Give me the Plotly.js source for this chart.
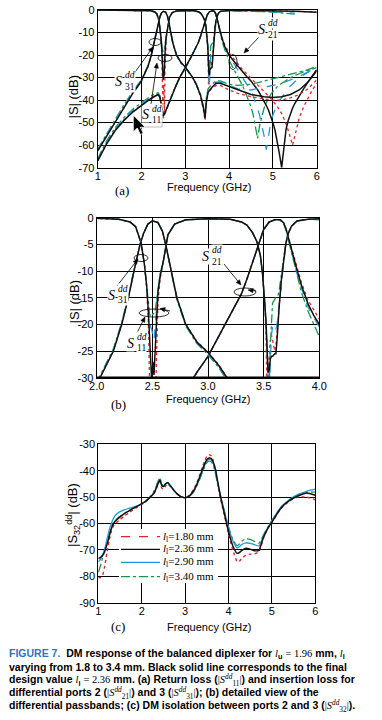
<!DOCTYPE html>
<html><head><meta charset="utf-8">
<script src="https://cdn.plot.ly/plotly-3.0.1.min.js"></script>
<style>html,body{margin:0;padding:0;background:#fff}#chart{width:382px;height:720px}</style>
</head><body><div id="chart"></div>
<script>
// ---------------- DATA ----------------
const variants = ['l1=1.80 mm','l1=2.36 mm','l1=2.90 mm','l1=3.40 mm'];

const F31 = [1.0,1.2,1.4,1.6,1.8,1.9,2.0,2.03,2.1,2.15,2.225,2.285,2.335,2.39,2.42,2.46,2.5,2.55,2.59,2.62,2.67,2.72,2.8,2.9,3.0,3.1,3.17,3.25,3.35,3.42,3.45,3.48,3.52,3.6,3.7,3.8,4.0,4.2,4.5,4.8,5.0,5.2,5.4,5.6,5.8,6.0];
const S31_red   = [-62.3,-55.8,-49.3,-42.8,-36.8,-34.1,-31.4,-30,-27.2,-25,-20,-15,-10,-5,-3,-1.2,-0.6,-0.9,-2.5,-5,-10,-15,-20,-23.2,-25.2,-27.7,-29.9,-33,-38.5,-45,-49,-40,-36.5,-35,-33.5,-33.5,-35.5,-37,-38.5,-39.5,-40,-40,-39,-37.5,-35,-31];
const S31_black = [-62.5,-56,-49.5,-43,-37,-34.3,-31.5,-30,-27.2,-25,-20,-15,-10,-5,-3,-1.2,-0.6,-0.9,-2.5,-5,-10,-15,-20,-23.3,-25.3,-27.8,-30,-33,-38,-44,-48,-41,-36.5,-34.5,-32.5,-32.5,-34,-35.5,-37.5,-38.5,-38.8,-38.5,-37.5,-35.5,-32,-27];
const S31_blue  = [-62,-55.3,-48.8,-42.3,-36.5,-33.8,-31.2,-29.8,-27,-24.8,-19.8,-14.8,-9.8,-4.9,-2.9,-1.2,-0.6,-0.9,-2.5,-5,-10,-15,-20,-23.4,-25.5,-28,-30.2,-33,-38,-43.5,-47,-40,-35.5,-33.5,-32,-32,-33.5,-35,-35.5,-34.5,-33.5,-32.5,-31,-29.5,-27.5,-25.5];
const S31_green = [-61.8,-55,-48.5,-42,-36.2,-33.5,-31,-29.6,-26.8,-24.6,-19.6,-14.7,-9.8,-4.9,-2.9,-1.2,-0.6,-0.9,-2.5,-5.1,-10.2,-15.3,-20.3,-23.6,-25.7,-28.2,-30.5,-33,-37.5,-43,-46,-39,-35,-33,-31.5,-31.5,-33,-33.5,-33,-31.5,-30.5,-29.5,-28.5,-27.5,-26.5,-25];

const F21 = [1.0,1.2,1.4,1.6,1.8,2.0,2.2,2.3,2.38,2.42,2.46,2.5,2.54,2.6,2.7,2.8,2.87,2.9,3.0,3.1,3.2,3.3,3.35,3.4,3.45,3.5,3.55,3.6,3.65,3.68,3.7,3.72,3.75,3.77,3.8,3.84,3.9,3.95,4.0,4.1,4.2,4.3,4.4,4.5,4.55,4.6,4.65,4.7,4.75,4.8,4.85,4.9,4.95,5.0,5.05,5.1,5.15,5.2,5.25,5.3,5.35,5.4,5.45,5.5,5.55,5.6,5.7,5.8,5.9,6.0];
const S21_red   = [-66.8,-59.3,-53.3,-48.8,-45.1,-42.1,-39.3,-38.1,-37.5,-38.8,-42.8,-48,-46,-42.5,-37.5,-33,-30,-29,-26,-22,-18.3,-14.3,-11.5,-8.3,-5,-2.2,-0.8,-0.4,-0.4,-1.0,-2.0,-3.5,-5.8,-7.4,-9.5,-12.2,-15.5,-17.3,-19,-21.5,-24,-26.3,-28.3,-30.2,-31.2,-32.2,-33.2,-34.2,-35.2,-36.2,-37.2,-38.2,-39.2,-40.3,-41.5,-42.8,-44.3,-46,-48,-50.5,-53.5,-57,-60,-56,-51.5,-48,-43,-39,-35.5,-32.5];
const S21_black = [-67,-59.5,-53.5,-49,-45.3,-42.3,-39.5,-38.3,-37.6,-38.8,-42.5,-47,-45.5,-42.5,-37.5,-33,-30,-29,-26,-22,-18.3,-14.3,-11.5,-8.3,-5,-2.2,-0.8,-0.4,-0.4,-1.0,-2.0,-3.6,-6.0,-7.7,-9.8,-12.7,-16.2,-18.3,-20,-22.5,-25,-27.3,-29.5,-31.5,-32.7,-34,-35.4,-37,-38.7,-40.5,-42.4,-44.5,-47,-50,-53.5,-58,-64,-70,-60,-53,-49,-46,-43.5,-41.5,-39.8,-38.3,-35,-32,-29.2,-26.5];
const S21_blue  = [-66.5,-58.7,-52.7,-48.2,-44.5,-41.5,-38.8,-37.6,-37,-38.3,-42.3,-46.5,-45.3,-42.4,-37.5,-33,-30,-29,-26,-22,-18.3,-14.3,-11.5,-8.3,-5,-2.2,-0.8,-0.4,-0.4,-1.0,-2.0,-3.7,-6.3,-8.1,-10.5,-13.2,-16.8,-18.7,-20.5,-23.5,-26.5,-29.5,-32.5,-36,-38.2,-40.5,-43.5,-47,-51,-56,-62,-55,-50,-46.5,-44,-42,-40.2,-38.7,-37.3,-36,-34.8,-33.7,-32.7,-31.8,-31,-30.2,-28.8,-27.5,-26.3,-25.3];
const S21_green = [-66,-58.2,-52.2,-47.7,-44,-41,-38.3,-37.2,-36.7,-38,-42,-47.5,-45.5,-42.3,-37.4,-33,-30,-29,-26,-22,-18.3,-14.3,-11.5,-8.3,-5,-2.2,-0.8,-0.4,-0.5,-1.2,-2.3,-4.0,-6.7,-8.5,-11,-14,-17.6,-20,-22.3,-26,-29.5,-33.3,-38,-43,-46.5,-51,-57,-51,-46.5,-43.5,-41,-39,-37.5,-36.2,-35,-34,-33.2,-32.5,-31.8,-31.2,-30.6,-30.1,-29.6,-29.1,-28.7,-28.3,-27.5,-26.8,-26.2,-25.6];

const F11 = [1.0,1.5,2.0,2.2,2.3,2.35,2.4,2.43,2.45,2.465,2.475,2.485,2.495,2.505,2.515,2.525,2.535,2.55,2.57,2.6,2.64,2.7,2.8,3.0,3.2,3.3,3.35,3.4,3.44,3.47,3.49,3.51,3.52,3.53,3.54,3.55,3.56,3.57,3.58,3.6,3.61,3.62,3.63,3.64,3.66,3.68,3.7,3.72,3.75,3.8,3.9,4.0,4.5,5.0,5.5,6.0];
const S11_red   = [-0.05,-0.05,-0.1,-0.3,-0.8,-1.7,-4.8,-9,-13.5,-20,-30,-42,-36,-33,-40,-46,-28,-16,-11.5,-8,-3.2,-1.2,-0.4,-0.2,-0.3,-0.8,-1.4,-2.8,-4.5,-7,-10.5,-16,-21,-33,-30,-25,-23,-22,-23,-25,-24,-22,-19,-16.5,-11.5,-7.5,-4.8,-3,-1.6,-0.6,-0.3,-0.2,-0.2,-0.3,-0.5,-0.8];
const S11_black = [-0.05,-0.05,-0.1,-0.3,-0.8,-1.7,-4.8,-9,-13,-18,-22.5,-28,-31,-27,-29.5,-25,-19,-14,-11,-8,-3.2,-1.2,-0.4,-0.2,-0.3,-0.8,-1.4,-2.8,-4.5,-7,-10.5,-15.5,-19,-24,-29,-28.5,-26.5,-26,-26,-25.5,-25.5,-23,-19.5,-16.5,-11.5,-7.5,-4.8,-3,-1.6,-0.6,-0.3,-0.2,-0.2,-0.3,-0.6,-1.0];
const S11_blue  = [-0.05,-0.05,-0.1,-0.3,-0.8,-1.7,-4.8,-9,-13,-17.5,-19.5,-20.5,-21,-22.5,-23,-20.5,-17.5,-13.5,-10.8,-8,-3.2,-1.2,-0.4,-0.2,-0.3,-0.8,-1.4,-2.8,-4.5,-7,-10.5,-15.5,-19,-25,-31,-34,-27,-22,-20.5,-20,-21,-20,-18,-16,-11.5,-7.5,-4.8,-3,-1.6,-0.6,-0.3,-0.3,-0.4,-0.8,-1.4];
const S11_green = [-0.05,-0.05,-0.1,-0.3,-0.8,-1.7,-4.8,-9,-13,-16.5,-18,-18.5,-18.5,-18,-18,-17.5,-16,-13,-10.5,-8,-3.2,-1.2,-0.4,-0.2,-0.3,-0.8,-1.4,-2.8,-4.5,-7,-10.5,-15.5,-19,-24,-30,-32,-24,-18,-16,-15.3,-15,-15,-14.5,-13.5,-10.5,-7.3,-4.8,-3,-1.6,-0.6,-0.3,-0.4,-0.5,-0.9,-1.8];

const F32 = [1.0,1.05,1.1,1.15,1.2,1.25,1.3,1.35,1.4,1.5,1.6,1.7,1.8,1.9,2.0,2.1,2.2,2.3,2.36,2.42,2.46,2.5,2.55,2.6,2.65,2.7,2.8,2.9,3.0,3.1,3.2,3.3,3.4,3.45,3.5,3.55,3.6,3.65,3.7,3.75,3.8,3.9,4.0,4.1,4.2,4.25,4.3,4.4,4.5,4.6,4.7,4.8,4.9,5.0,5.2,5.4,5.6,5.8,6.0];
const S32_red   = [-80.5,-80.5,-79.5,-76,-71,-66.5,-63,-61,-60,-58.5,-57.2,-56,-54.8,-53.8,-52.8,-51.6,-50.2,-48.2,-46,-44.2,-46.5,-47,-45.8,-44.9,-45.8,-46.8,-48.6,-49.8,-50.2,-49.3,-47,-43.3,-38.5,-36.3,-34.6,-34,-34.3,-36.3,-40,-45,-49.5,-56.5,-64,-70,-74.5,-74.3,-73.3,-72,-71.6,-71.5,-70.7,-65.8,-62,-59.6,-54.5,-51.5,-50,-50,-51];
const S32_black = [-73.3,-72.8,-72,-70.5,-68,-65,-62,-60,-59,-57.5,-56.3,-55.3,-54.3,-53.5,-52.5,-51.5,-50,-48,-45.5,-43.5,-45.5,-46,-45,-44.5,-45.5,-46.5,-48.5,-49.8,-50.2,-49.5,-47.5,-44,-39.5,-37.5,-35.8,-35.2,-35.3,-36.8,-39.5,-44,-48.5,-56,-63,-68.5,-71.3,-71,-70.3,-69.4,-69.7,-70.3,-70.2,-65.5,-62,-59.5,-54.3,-51.3,-49.6,-48.4,-49.3];
const S32_blue  = [-74.5,-73.5,-72,-69.5,-66,-62.5,-60,-58,-56.8,-55.5,-54.8,-54.3,-53.8,-53.3,-52.5,-51.5,-50,-48,-45.3,-43.2,-45.3,-45.8,-44.9,-44.5,-45.5,-46.5,-48.5,-49.8,-50.2,-49.6,-47.7,-44.4,-40,-38,-36.3,-35.7,-35.8,-37.3,-40.5,-44.5,-48.3,-55,-61.5,-66.5,-69.3,-68.8,-68,-67.3,-67.5,-68,-68.5,-65,-61.8,-59,-54,-51,-49,-47.8,-47];
const S32_green = [-78.5,-76,-73,-70,-67.5,-64.5,-61.5,-59.8,-58.8,-57.3,-56.2,-55.2,-54.2,-53.4,-52.5,-51.3,-49.7,-47.3,-44.7,-42.6,-45,-45.8,-45,-44.6,-45.6,-46.6,-48.5,-49.8,-50.2,-49.6,-48,-44.8,-40.6,-38.6,-37,-36.4,-36.5,-38,-41.2,-45,-48.5,-55,-61.3,-66,-68.5,-67.8,-66.8,-65.8,-66,-66.8,-67.5,-64.5,-61.5,-58.8,-54,-51,-49.2,-48.3,-48];

const xTicksA = [1,2,3,4,5,6], xTextA = ['1','2','3','4','5','6'];
const yTicksA = [0,-10,-20,-30,-40,-50,-60,-70], yTextA = ['0','-10','-20','-30','-40','-50','-60','-70'];
const xTicksB = [2,2.5,3,3.5,4], xTextB = ['2.0','2.5','3.0','3.5','4.0'];
const yTicksB = [0,-5,-10,-15,-20,-25,-30], yTextB = ['0','-5','-10','-15','-20','-25','-30'];
const yTicksC = [-30,-40,-50,-60,-70,-80,-90], yTextC = ['-30','-40','-50','-60','-70','-80','-90'];

// ---------------- STYLE ----------------
const W = 382, H = 720;
const SANS = 'Liberation Sans, Arial, sans-serif';
const SERIF = 'Liberation Serif, Times New Roman, serif';
const COL = {red:'#e0262c', black:'#111111', blue:'#2595dd', green:'#17964a'};
const px = p => p / W, py = p => 1 - p / H;

function line(c, dash, w){ return {color:COL[c], dash:dash, width:w}; }
const styAB = {red:line('red','dot',1.3), green:line('green','dashdot',1.3), blue:line('blue','dash',1.3), black:line('black','solid',1.5)};
const styC  = {red:line('red','dot',1.4), green:line('green','dashdot',1.3), blue:line('blue','solid',1.3), black:line('black','solid',1.5)};

const sets = [
  {f:F11, v:{red:S11_red, black:S11_black, blue:S11_blue, green:S11_green}},
  {f:F21, v:{red:S21_red, black:S21_black, blue:S21_blue, green:S21_green}},
  {f:F31, v:{red:S31_red, black:S31_black, blue:S31_blue, green:S31_green}}
];
const order = ['red','green','blue','black'];
const traces = [];
[['x','y'],['x2','y2']].forEach(([xa,ya]) => {
  sets.forEach(s => order.forEach(k => traces.push({
    type:'scatter', mode:'lines', x:s.f, y:s.v[k], xaxis:xa, yaxis:ya,
    line:styAB[k], hoverinfo:'skip', showlegend:false
  })));
});
const s32 = {red:S32_red, black:S32_black, blue:S32_blue, green:S32_green};
order.forEach(k => traces.push({
  type:'scatter', mode:'lines', x:F32, y:s32[k], xaxis:'x3', yaxis:'y3',
  line:Object.assign({shape:'spline', smoothing:0.5}, styC[k]), hoverinfo:'skip', showlegend:false
}));

function xAx(d, anchor, range, vals, text){
  return {domain:[px(d[0]), px(d[1])], anchor:anchor, range:range, tickmode:'array', tickvals:vals, ticktext:text,
    showgrid:true, gridcolor:'#000', gridwidth:1, showline:true, mirror:true, linecolor:'#000', linewidth:1,
    zeroline:false, ticks:'', ticklabelstandoff:-2, tickfont:{family:SANS, size:11, color:'#000'}, fixedrange:true};
}
function yAx(d, anchor, range, vals, text){
  return {domain:[py(d[1]), py(d[0])], anchor:anchor, range:range, tickmode:'array', tickvals:vals, ticktext:text,
    showgrid:true, gridcolor:'#000', gridwidth:1, showline:true, mirror:true, linecolor:'#000', linewidth:1,
    zeroline:false, ticks:'', tickfont:{family:SANS, size:11, color:'#000'}, fixedrange:true};
}

// ---------------- ANNOTATIONS ----------------
const ann = [], shapes = [];
function sLabel(x, y, sub){
  ann.push({xref:'paper', yref:'paper', x:px(x), y:py(y), text:'<i>S</i>', showarrow:false, xanchor:'center', yanchor:'middle',
    font:{family:SERIF, size:14, color:'#000'}, bgcolor:'#fff', borderpad:0});
  ann.push({xref:'paper', yref:'paper', x:px(x+11.5), y:py(y-6.5), text:'<i>dd</i>', showarrow:false, xanchor:'center', yanchor:'middle',
    font:{family:SERIF, size:9.5, color:'#000'}, bgcolor:'#fff', borderpad:0});
  ann.push({xref:'paper', yref:'paper', x:px(x+11.5), y:py(y+5), text:sub, showarrow:false, xanchor:'center', yanchor:'middle',
    font:{family:SERIF, size:9.5, color:'#000'}, bgcolor:'#fff', borderpad:0});
}
function seg(x0,y0,x1,y1,c,w,dash){
  shapes.push({type:'line', xref:'paper', yref:'paper', x0:px(x0), y0:py(y0), x1:px(x1), y1:py(y1), line:{color:c, width:w, dash:dash||'solid'}});
}
function arrow(tx, ty, hx, hy){
  const dx = hx - tx, dy = hy - ty, L = Math.hypot(dx, dy), ux = dx / L, uy = dy / L;
  const hl = 5, hw = 2.2;
  const bx = hx - ux * hl, by = hy - uy * hl;
  seg(tx, ty, bx, by, '#000', 0.8);
  const p1 = [bx - uy * hw, by + ux * hw], p2 = [bx + uy * hw, by - ux * hw];
  const d = `M ${px(hx)},${py(hy)} L ${px(p1[0])},${py(p1[1])} L ${px(p2[0])},${py(p2[1])} Z`;
  shapes.push({type:'path', xref:'paper', yref:'paper', path:d, fillcolor:'#000', line:{color:'#000', width:0.5}});
}
function ellipse(cx, cy, rx, ry){
  shapes.push({type:'circle', xref:'paper', yref:'paper', x0:px(cx-rx), x1:px(cx+rx), y0:py(cy+ry), y1:py(cy-ry),
    line:{color:'#000', width:0.8}, fillcolor:'rgba(0,0,0,0)'});
}
function txt(x, y, t, size, fam, anchor, angle){
  ann.push({xref:'paper', yref:'paper', x:px(x), y:py(y), text:t, showarrow:false, xanchor:anchor||'center', yanchor:'middle',
    textangle:angle||0, font:{family:fam||SERIF, size:size||12, color:'#000'}});
}

// axis titles
txt(209, 186.5, 'Frequency (GHz)', 11, SANS);
txt(207.5, 398.5, 'Frequency (GHz)', 11, SANS);
txt(209, 627, 'Frequency (GHz)', 11, SANS);
txt(73, 96.5, '|S| (dB)', 13, SANS, 'center', -90);
txt(74, 301.5, '|S| (dB)', 13, SANS, 'center', -90);
txt(73, 515, '|S<sub>32</sub><sup>dd</sup>| (dB)', 13, SANS, 'center', -90);

// panel (a)
sLabel(118.3, 81.7, '31'); arrow(133, 75, 153, 47); ellipse(155, 42, 6, 3.5);
sLabel(145, 115, '11');    arrow(151, 104, 157, 63); ellipse(165, 58, 7, 3.5);
sLabel(261.7, 30, '21');   arrow(259, 37, 244, 53);  ellipse(233, 62, 4, 7.5);
seg(140, 127, 162, 127, '#bbbbbb', 1); seg(162, 110, 162, 127, '#bbbbbb', 1);
// cursor artefact
(function(){
  const tx = 133.3, ty = 115;
  const pts = [[0,0],[0,17],[4,13],[7,19.5],[10,18.3],[7,12.3],[12,12.3]];
  const d = 'M ' + pts.map(p => px(tx+p[0]) + ',' + py(ty+p[1])).join(' L ') + ' Z';
  shapes.push({type:'path', xref:'paper', yref:'paper', path:d, fillcolor:'#000', line:{color:'#fff', width:0.8}});
})();
txt(121.7, 190.7, '(a)', 13);

// panel (b)
sLabel(111.7, 295, '31'); arrow(117, 286, 138, 259); ellipse(141, 258, 7, 3.5);
sLabel(130, 343.3, '11'); arrow(137, 333, 145, 317); ellipse(154, 313, 15, 4); arrow(170, 311, 160, 308.5);
sLabel(206, 256.7, '21'); arrow(224, 264, 241, 285); ellipse(245, 292, 11, 4); arrow(256, 291, 248, 290);
seg(96.7, 377.7, 319.3, 377.7, '#000', 2.5);
txt(118, 404, '(b)', 13);

// panel (c) legend (drawn box)
shapes.push({type:'rect', xref:'paper', yref:'paper', x0:px(119), x1:px(218), y0:py(583), y1:py(529), fillcolor:'#fff', line:{width:0}, layer:'above'});
const legY = [536.7, 549.3, 562.3, 576.7];
const legStyle = [['red','dash'],['black','solid'],['blue','solid'],['green','dashdot']];
const legText = ['1.80 mm','2.36 mm','2.90 mm','3.40 mm'];
legY.forEach((y,i) => {
  seg(121, y, 160, y, COL[legStyle[i][0]], 1.3, legStyle[i][1]);
  txt(161, y, '<i>l</i><sub>l</sub>=' + legText[i], 11, SERIF, 'left');
});
txt(118, 626, '(c)', 13);

// caption
const SER = 'font-family:Liberation Serif;font-weight:normal';
const mi = t => `<span style="${SER};font-style:italic">${t}</span>`;
const mr = t => `<span style="${SER}">${t}</span>`;
const Sdd = n => mr('|') + mi('S') + '<sup>' + mi('dd') + '</sup><sub>' + mr(n) + '</sub>' + mr('|');
const capLines = [
  '<b><span style="color:#2b74c0">FIGURE 7.</span>  DM response of the balanced diplexer for ' + mi('l') + '<sub>u</sub> ' + mr('= 1.96') + ' mm, ' + mi('l') + '<sub>l</sub></b>',
  '<b>varying from 1.8 to 3.4 mm. Black solid line corresponds to the final</b>',
  '<b>design value ' + mi('l') + '<sub>l</sub> ' + mr('= 2.36') + ' mm. (a) Return loss (' + Sdd('11') + ') and insertion loss for</b>',
  '<b>differential ports 2 (' + Sdd('21') + ') and 3 (' + Sdd('31') + '); (b) detailed view of the</b>',
  '<b>differential passbands; (c) DM isolation between ports 2 and 3 (' + Sdd('32') + ').</b>'
];
const capY = [654, 666.5, 679.5, 692.5, 705.5];
capLines.forEach((t,i) => txt(7, capY[i], t, 10.5, SANS, 'left'));

const layout = {
  width:W, height:H, margin:{l:0, r:0, t:0, b:0}, paper_bgcolor:'#fff', plot_bgcolor:'#fff', showlegend:false,
  font:{family:SANS, size:11, color:'#000'},
  xaxis:  xAx([97.7, 316.7], 'y',  [1,6], xTicksA, xTextA),
  yaxis:  yAx([10, 167.7],   'x',  [-70,0], yTicksA, yTextA),
  xaxis2: xAx([96.7, 319.3], 'y2', [2,4], xTicksB, xTextB),
  yaxis2: yAx([217.7, 377.7],'x2', [-30,0], yTicksB, yTextB),
  xaxis3: xAx([98.3, 315.3], 'y3', [1,6], xTicksA, xTextA),
  yaxis3: yAx([444.3, 602.7],'x3', [-90,-30], yTicksC, yTextC),
  annotations:ann, shapes:shapes
};
Plotly.newPlot('chart', traces, layout, {staticPlot:true, displayModeBar:false});
</script></body></html>
